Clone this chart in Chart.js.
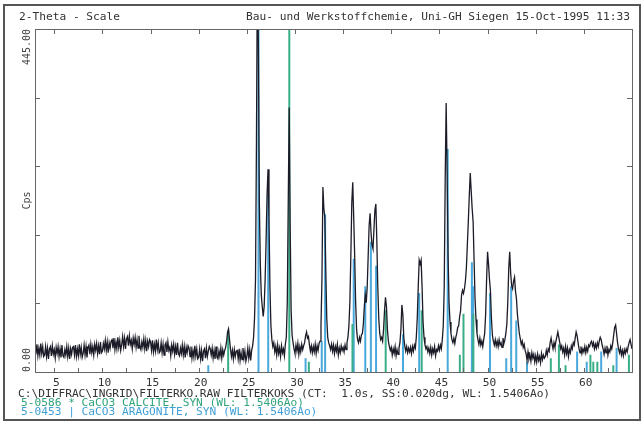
<!DOCTYPE html>
<html>
<head>
<meta charset="utf-8">
<title>2-Theta - Scale</title>
<script src="https://cdn.jsdelivr.net/npm/chart.js@4.4.0/dist/chart.umd.min.js"></script>
<style>
  html, body { margin: 0; padding: 0; background: #fff; }
  #wrap { width: 644px; height: 423px; position: relative; }
</style>
</head>
<body>
<div id="wrap"><canvas id="xrd"></canvas></div>
<script>
// Scan settings (2-theta start and step used for the trace below)
const scanStart = 3.0;
const scanStep = 0.1;

// Counts per second, one row per degree (x.0 .. x.9)
const counts = [
  34,23,36,21,31,22,37,24,33,20,   // 3
  22,33,20,31,17,30,33,21,34,23,   // 4
  29,18,32,24,33,20,30,19,35,21,   // 5
  19,29,22,33,20,31,17,30,23,32,   // 6
  33,22,35,20,30,21,36,23,32,19,   // 7
  24,35,22,33,19,32,35,23,36,25,   // 8
  33,22,36,28,37,24,34,23,39,25,   // 9
  27,37,30,41,28,39,25,38,31,40,   // 10
  42,31,44,29,39,30,45,32,41,28,   // 11
  35,46,33,44,30,43,46,34,47,36,   // 12
  41,30,44,36,45,32,42,31,47,33,   // 13
  29,39,32,43,30,41,27,40,33,42,   // 14
  39,28,41,26,36,27,42,29,38,25,   // 15
  27,38,25,36,22,35,38,26,39,28,   // 16
  32,21,35,27,36,23,33,22,38,24,   // 17
  21,31,24,35,22,33,19,32,25,34,   // 18
  31,20,33,18,28,19,34,21,30,17,   // 19
  19,30,17,28,14,27,30,18,31,20,   // 20
  27,33,30,22,31,18,28,17,33,19,   // 21
  17,27,20,31,18,29,22,28,32,40,   // 22
  52,56,42,30,20,28,17,29,20,27,   // 23
  28,17,30,15,25,16,31,18,27,14,   // 24
  20,31,18,29,15,28,34,45,70,120,  // 25
  300,540,420,220,140,100,85,72,85,120, // 26
  170,230,263,200,110,60,42,33,38,26,   // 27
  33,22,35,24,31,20,34,25,30,21,   // 28
  36,45,90,220,343,190,80,48,38,30, // 29
  24,35,27,37,23,33,26,36,29,34,   // 30
  38,47,52,44,46,35,27,34,25,33,   // 31
  26,36,24,34,28,37,40,60,120,240, // 32
  212,200,130,70,45,38,34,29,36,27, // 33
  35,24,33,27,36,22,31,25,34,28,   // 34
  32,26,35,29,38,45,60,90,150,220, // 35
  246,200,150,90,55,42,38,45,40,48, // 36
  50,62,85,100,90,110,150,190,206,180, // 37
  165,160,185,210,218,170,110,70,50,42, // 38
  45,40,55,80,97,85,55,40,33,28,   // 39
  32,22,30,24,33,21,29,23,31,38,   // 40
  55,87,75,45,34,27,33,25,31,26,   // 41
  32,24,33,27,35,31,45,70,110,145, // 42
  140,145,110,65,45,35,30,33,26,31, // 43
  24,32,22,30,25,33,21,29,27,34,   // 44
  28,35,30,42,60,110,250,349,260,150, // 45
  90,65,50,42,38,44,37,45,50,58,   // 46
  60,72,80,100,106,102,108,118,135,165, // 47
  195,228,258,235,212,195,145,95,68,50, // 48
  42,36,44,35,40,33,42,50,75,120,  // 49
  156,140,120,105,70,48,40,35,42,34, // 50
  40,33,42,35,38,32,44,37,42,50,   // 51
  62,90,135,156,128,112,108,118,123,105, // 52
  95,75,62,50,43,36,40,32,36,28,   // 53
  24,15,26,17,22,14,25,18,23,13,   // 54
  21,13,23,15,20,12,24,16,22,18,   // 55
  20,28,22,30,27,38,44,36,30,38,   // 56
  32,40,46,52,45,38,30,34,26,31,   // 57
  22,33,24,31,20,29,25,34,30,38,   // 58
  35,44,52,47,38,30,25,33,24,30,   // 59
  26,33,25,32,27,35,33,38,40,34,   // 60
  38,30,36,31,38,33,40,45,42,35,   // 61
  30,23,31,25,34,22,29,26,34,30,   // 62
  38,48,58,61,50,38,30,25,31,22,   // 63
  28,21,29,24,30,26,33,38,42,36,   // 64
  30                               // 65
];

// Reference lines (2-theta, relative intensity in %)
const calciteAngles = [23.06, 29.41, 31.44, 35.97, 39.42, 43.16, 47.12, 47.50, 48.52,
  56.57, 57.41, 58.10, 60.68, 60.98, 61.40, 63.06, 64.68];
const calcitePct = [12, 100, 3, 14, 18, 18, 5, 17, 17, 4, 8, 2, 5, 3, 3, 2, 5];

const aragoniteAngles = [21.00, 26.21, 27.22, 31.10, 32.78, 33.13, 36.10, 37.30, 37.88,
  38.42, 41.22, 42.90, 45.86, 48.37, 48.50, 50.25, 51.94, 52.45, 52.98, 54.10, 59.30,
  60.30, 61.80, 63.40];
const aragonitePct = [2, 100, 52, 4, 9, 46, 33, 25, 38, 31, 11, 23, 65, 32, 25, 23, 4,
  25, 15, 3, 6, 3, 6, 7];

// Axes
const xMin = 3, xMax = 65;
const yMin = 0, yMax = 445;
const xTickLabels = [5, 10, 15, 20, 25, 30, 35, 40, 45, 50, 55, 60];
const xMinorTicks = [5, 7.5, 10, 12.5, 15, 17.5, 20, 22.5, 25, 27.5, 30, 32.5, 35, 37.5,
  40, 42.5, 45, 47.5, 50, 52.5, 55, 57.5, 60, 62.5];
const yTicks = [0, 89, 178, 267, 356, 445];
const yLabels = ['0.00', '445.00'];

const headerLeft = '2-Theta - Scale';
const headerRight = 'Bau- und Werkstoffchemie, Uni-GH Siegen 15-Oct-1995 11:33';
const fileLine = 'C:\\DIFFRAC\\INGRID\\FILTERKO.RAW FILTERKOKS (CT:  1.0s, SS:0.020dg, WL: 1.5406Ao)';
const calciteLine = '5-0586 * CaCO3 CALCITE, SYN (WL: 1.5406Ao)';
const aragoniteLine = '5-0453 | CaCO3 ARAGONITE, SYN (WL: 1.5406Ao)';

const MONO = '"DejaVu Sans Mono", "Liberation Mono", monospace';
const TEXT = '#333';
const TRACE = '#1c1c28';
const CALCITE = '#39ae86';
const ARAGONITE = '#49a8dc';

function traceData() {
  return counts.map((c, i) => ({ x: +(scanStart + i * scanStep).toFixed(2), y: c }));
}

// Each stick: bottom point, top point, then a gap
function stickData(angles, pct) {
  const pts = [];
  angles.forEach((a, i) => {
    pts.push({ x: a, y: 0 }, { x: a, y: pct[i] / 100 * yMax }, { x: a, y: null });
  });
  return pts;
}

const decor = {
  id: 'xrdDecor',
  beforeDraw(chart) {
    const ctx = chart.ctx;
    ctx.save();
    ctx.fillStyle = '#fff';
    ctx.fillRect(0, 0, chart.width, chart.height);
    ctx.restore();
  },
  afterDraw(chart) {
    const { ctx, chartArea: a, scales: { x, y } } = chart;
    ctx.save();

    // page border
    ctx.strokeStyle = '#555';
    ctx.lineWidth = 2;
    ctx.strokeRect(4, 5, 636, 415);

    // plot frame
    ctx.strokeStyle = '#666';
    ctx.lineWidth = 1;
    ctx.strokeRect(a.left + 0.5, a.top + 0.5, a.right - a.left, a.bottom - a.top);

    // inward tick marks
    ctx.beginPath();
    xMinorTicks.forEach(v => {
      const px = Math.round(x.getPixelForValue(v)) + 0.5;
      ctx.moveTo(px, a.bottom);
      ctx.lineTo(px, a.bottom - 4);
    });
    xTickLabels.forEach(v => {
      const px = Math.round(x.getPixelForValue(v)) + 0.5;
      ctx.moveTo(px, a.top);
      ctx.lineTo(px, a.top + 5);
    });
    yTicks.slice(1, -1).forEach(v => {
      const py = Math.round(y.getPixelForValue(v)) + 0.5;
      ctx.moveTo(a.left, py);
      ctx.lineTo(a.left + 5, py);
      ctx.moveTo(a.right, py);
      ctx.lineTo(a.right - 5, py);
    });
    ctx.stroke();

    // rotated y labels at both ends of the axis
    ctx.fillStyle = '#444';
    ctx.font = '10px ' + MONO;
    ctx.textBaseline = 'middle';
    ctx.save();
    ctx.translate(27, y.getPixelForValue(yMax));
    ctx.rotate(-Math.PI / 2);
    ctx.textAlign = 'right';
    ctx.fillText(yLabels[1], 0, 0);
    ctx.restore();
    ctx.save();
    ctx.translate(27, y.getPixelForValue(yMin));
    ctx.rotate(-Math.PI / 2);
    ctx.textAlign = 'left';
    ctx.fillText(yLabels[0], 0, 0);
    ctx.restore();

    // header
    ctx.font = '11.2px ' + MONO;
    ctx.fillStyle = TEXT;
    ctx.textAlign = 'left';
    ctx.fillText(headerLeft, 19, 17);
    ctx.textAlign = 'right';
    ctx.fillText(headerRight, 630, 17);

    // footer
    ctx.textAlign = 'left';
    ctx.fillText(fileLine, 18, 394);
    ctx.fillStyle = '#2fa47a';
    ctx.fillText(calciteLine, 21, 403);
    ctx.fillStyle = '#3f9fd6';
    ctx.fillText(aragoniteLine, 21, 412);

    ctx.restore();
  }
};

new Chart(document.getElementById('xrd'), {
  type: 'line',
  data: {
    datasets: [
      {
        label: 'FILTERKOKS',
        data: traceData(),
        borderColor: TRACE,
        borderWidth: 1.3,
        pointRadius: 0,
        tension: 0,
        order: 0
      },
      {
        label: 'Calcite 5-0586',
        data: stickData(calciteAngles, calcitePct),
        borderColor: CALCITE,
        borderWidth: 2,
        pointRadius: 0,
        spanGaps: false,
        order: 1
      },
      {
        label: 'Aragonite 5-0453',
        data: stickData(aragoniteAngles, aragonitePct),
        borderColor: ARAGONITE,
        borderWidth: 2,
        pointRadius: 0,
        spanGaps: false,
        order: 2
      }
    ]
  },
  options: {
    responsive: true,
    maintainAspectRatio: false,
    animation: false,
    devicePixelRatio: 1,
    layout: { padding: { top: 29, right: 12, left: 0, bottom: 0 } },
    plugins: {
      legend: { display: false },
      tooltip: { enabled: false }
    },
    scales: {
      x: {
        type: 'linear',
        min: xMin,
        max: xMax,
        offset: false,
        afterBuildTicks: s => { s.ticks = xMinorTicks.map(v => ({ value: v })); },
        afterFit: s => { s.height = 51; },
        grid: { display: false, drawTicks: false },
        border: { display: false },
        ticks: {
          autoSkip: false,
          maxRotation: 0,
          minRotation: 0,
          padding: 4,
          labelOffset: 2,
          color: TEXT,
          font: { family: MONO, size: 11.2 },
          callback: v => xTickLabels.includes(v) ? String(v) : ''
        }
      },
      y: {
        type: 'linear',
        min: yMin,
        max: yMax,
        afterBuildTicks: s => { s.ticks = yTicks.map(v => ({ value: v })); },
        afterFit: s => { s.width = 35; },
        grid: { display: false, drawTicks: false },
        border: { display: false },
        ticks: { display: false },
        title: {
          display: true,
          text: 'Cps',
          color: '#444',
          font: { family: MONO, size: 10 },
          padding: { top: 21, bottom: 0 }
        }
      }
    }
  },
  plugins: [decor]
});
</script>
</body>
</html>
